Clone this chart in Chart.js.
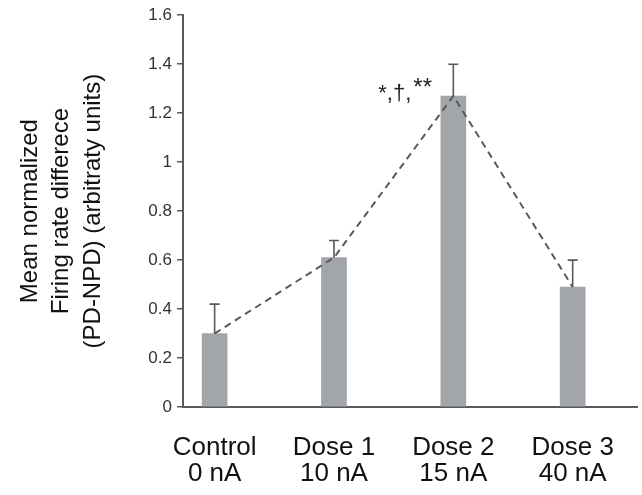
<!DOCTYPE html>
<html>
<head>
<meta charset="utf-8">
<script src="https://cdn.jsdelivr.net/npm/chart.js@4"></script>
<style>
  body { margin: 0; background: #fff; }
  #wrap { width: 642px; height: 495px; }
</style>
</head>
<body>
<div id="wrap"><canvas id="doseChart"></canvas></div>
<script>
// groups along the x axis, one line per row of the label
const categories = [['Control', '0 nA'], ['Dose 1', '10 nA'], ['Dose 2', '15 nA'], ['Dose 3', '40 nA']];
const positions = [0, 1, 2, 3];
const means = [0.30, 0.61, 1.27, 0.49];
const sem = [0.12, 0.07, 0.13, 0.11];
const yTicks = [0, 0.2, 0.4, 0.6, 0.8, 1, 1.2, 1.4, 1.6];
const yTitle = ['Mean normalized', 'Firing rate differece', '(PD-NPD) (arbitraty units)'];
const marker = { index: 2, main: '*,\u2020,', sup: '**' };

const FONT = "'Liberation Sans', Arial, Helvetica, sans-serif";

// error bars (upper half only) drawn on top of the bars
const errorBars = {
    id: 'errorBars',
    afterDatasetsDraw(chart) {
        const ctx = chart.ctx;
        const xs = chart.scales.x;
        const ys = chart.scales.y;
        ctx.save();
        ctx.strokeStyle = '#5a5a5a';
        ctx.lineWidth = 1.6;
        means.forEach((m, i) => {
            const x = xs.getPixelForValue(positions[i]);
            const y0 = ys.getPixelForValue(m);
            const y1 = ys.getPixelForValue(m + sem[i]);
            ctx.beginPath();
            ctx.moveTo(x, y0);
            ctx.lineTo(x, y1);
            ctx.moveTo(x - 5, y1);
            ctx.lineTo(x + 5, y1);
            ctx.stroke();
        });

        // significance marks next to the peak
        const px = xs.getPixelForValue(positions[marker.index]);
        const py = ys.getPixelForValue(means[marker.index]);
        ctx.fillStyle = '#222';
        ctx.textAlign = 'right';
        ctx.textBaseline = 'alphabetic';
        ctx.font = '22px ' + FONT;
        ctx.fillText(marker.main, px - 42, py + 4);
        ctx.textAlign = 'left';
        ctx.font = '24px ' + FONT;
        ctx.fillText(marker.sup, px - 40, py - 1);
        ctx.restore();
    }
};

const ctx = document.getElementById('doseChart').getContext('2d');
new Chart(ctx, {
    type: 'bar',
    data: {
        datasets: [
            {
                type: 'line',
                data: means.map((m, i) => ({ x: positions[i], y: m })),
                borderColor: '#5a5a5a',
                borderWidth: 2,
                borderDash: [7, 5],
                pointRadius: 0,
                fill: false,
                order: 0
            },
            {
                data: means.map((m, i) => ({ x: positions[i], y: m })),
                backgroundColor: '#a2a5a9',
                barThickness: 25,
                order: 1
            }
        ]
    },
    options: {
        responsive: true,
        maintainAspectRatio: false,
        animation: false,
        layout: { padding: { top: 15, right: 1, left: 0, bottom: 0 } },
        plugins: {
            legend: { display: false },
            tooltip: { enabled: false }
        },
        scales: {
            x: {
                type: 'linear',
                offset: false,
                min: -0.265,
                max: 3.54,
                afterBuildTicks: s => { s.ticks = positions.map(v => ({ value: v })); },
                afterFit: s => { s.height = 88; },
                grid: { display: false, drawTicks: false },
                border: { display: true, color: '#5a5a5a', width: 2 },
                ticks: {
                    padding: 28,
                    color: '#111',
                    font: { family: FONT, size: 26, lineHeight: 1.0 },
                    callback: v => categories[positions.indexOf(v)]
                }
            },
            y: {
                min: 0,
                max: 1.6,
                afterBuildTicks: s => { s.ticks = yTicks.map(v => ({ value: v })); },
                afterFit: s => { s.width = 183; },
                grid: { drawOnChartArea: false, drawTicks: true, tickLength: 6, color: '#5a5a5a', lineWidth: 1.5 },
                border: { display: true, color: '#5a5a5a', width: 2 },
                ticks: {
                    padding: 5,
                    color: '#333',
                    font: { family: FONT, size: 17 },
                    callback: v => String(+v.toFixed(1))
                },
                title: {
                    display: true,
                    text: yTitle,
                    color: '#111',
                    padding: { top: 15, bottom: 0 },
                    font: { family: FONT, size: 24, lineHeight: 1.3 }
                }
            }
        }
    },
    plugins: [errorBars]
});
</script>
</body>
</html>
